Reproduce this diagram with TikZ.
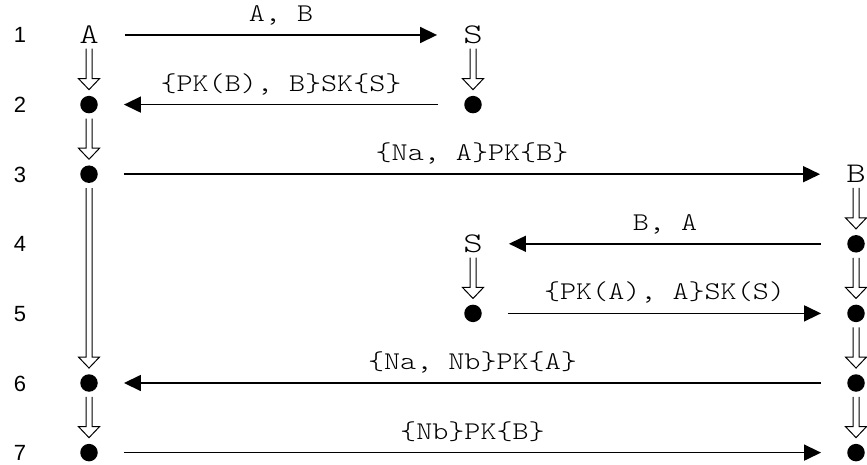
\documentclass[tikz,border=0pt]{standalone}
\usepackage{fontspec}
\setmainfont{Liberation Sans}
\newfontfamily\msgfont{lmmonolt10-regular.otf}[FakeStretch=1.2]
\newfontfamily\partyfont{lmmonolt10-regular.otf}[FakeStretch=1.3]
\usetikzlibrary{arrows.meta,calc}
\begin{document}
\begin{tikzpicture}[x=1pt,y=1pt,
  party/.style={font=\partyfont\fontsize{28.5}{30}\selectfont, inner sep=0pt,
                text height=17pt, text depth=0pt, minimum width=18pt},
  event/.style={circle, fill=black, inner sep=0pt, minimum size=17.5pt},
  rownum/.style={font=\fontsize{22}{24}\selectfont, inner sep=0pt,
                 text height=16pt, text depth=0pt},
  msg/.style={line width=1.6pt, shorten <=26pt, shorten >=26pt,
              -{Triangle[length=17pt,width=16pt]}},
  lbl/.style={font=\msgfont\fontsize{25.5}{28}\selectfont, anchor=base,
              yshift=13.5pt, inner sep=0pt},
  thread/.style={line width=1pt, to path={
      let \p1=(\tikztostart.south), \p2=(\tikztotarget.north) in
      (\x1-3pt,\y1-5pt) -- (\x1-3pt,\y2+17pt) -- (\x1-10.5pt,\y2+17pt)
      -- (\x1,\y2+6pt) -- (\x1+10.5pt,\y2+17pt) -- (\x1+3pt,\y2+17pt)
      -- (\x1+3pt,\y1-5pt)}}
]
\useasboundingbox (0,0) rectangle (867,-465);

% step numbers
\node[rownum] (n1) at (20,-35)    {1};
\node[rownum] (n2) at (20,-104.6) {2};
\node[rownum] (n3) at (20,-174.2) {3};
\node[rownum] (n4) at (20,-243.8) {4};
\node[rownum] (n5) at (20,-313.4) {5};
\node[rownum] (n6) at (20,-383)   {6};
\node[rownum] (n7) at (20,-452.6) {7};

% principals and their events
\node[party] (a1) at (89,-35)    {A};
\node[party] (s1) at (473,-35)   {S};
\node[event] (a2) at (89,-104.6)  {};
\node[event] (s2) at (473,-104.6) {};
\node[event] (a3) at (89,-174.2)  {};
\node[party] (b3) at (856,-174.2) {B};
\node[party] (s4) at (473,-243.8) {S};
\node[event] (b4) at (856,-243.8) {};
\node[event] (s5) at (473,-313.4) {};
\node[event] (b5) at (856,-313.4) {};
\node[event] (a6) at (89,-383)    {};
\node[event] (b6) at (856,-383)   {};
\node[event] (a7) at (89,-452.6)  {};
\node[event] (b7) at (856,-452.6) {};

% local threads
\draw[thread] (a1) to (a2);
\draw[thread] (a2) to (a3);
\draw[thread] (a3) to (a6);
\draw[thread] (a6) to (a7);
\draw[thread] (s1) to (s2);
\draw[thread] (s4) to (s5);
\draw[thread] (b3) to (b4);
\draw[thread] (b4) to (b5);
\draw[thread] (b5) to (b6);
\draw[thread] (b6) to (b7);

% messages
\draw[msg] (a1) -- node[lbl] {A, B} (s1);
\draw[msg] (s2) -- node[lbl] {\{PK(B), B\}SK\{S\}} (a2);
\draw[msg] (a3) -- node[lbl] {\{Na, A\}PK\{B\}} (b3);
\draw[msg] (b4) -- node[lbl] {B, A} (s4);
\draw[msg] (s5) -- node[lbl] {\{PK(A), A\}SK(S)} (b5);
\draw[msg] (b6) -- node[lbl] {\{Na, Nb\}PK\{A\}} (a6);
\draw[msg] (a7) -- node[lbl] {\{Nb\}PK\{B\}} (b7);
\end{tikzpicture}
\end{document}
